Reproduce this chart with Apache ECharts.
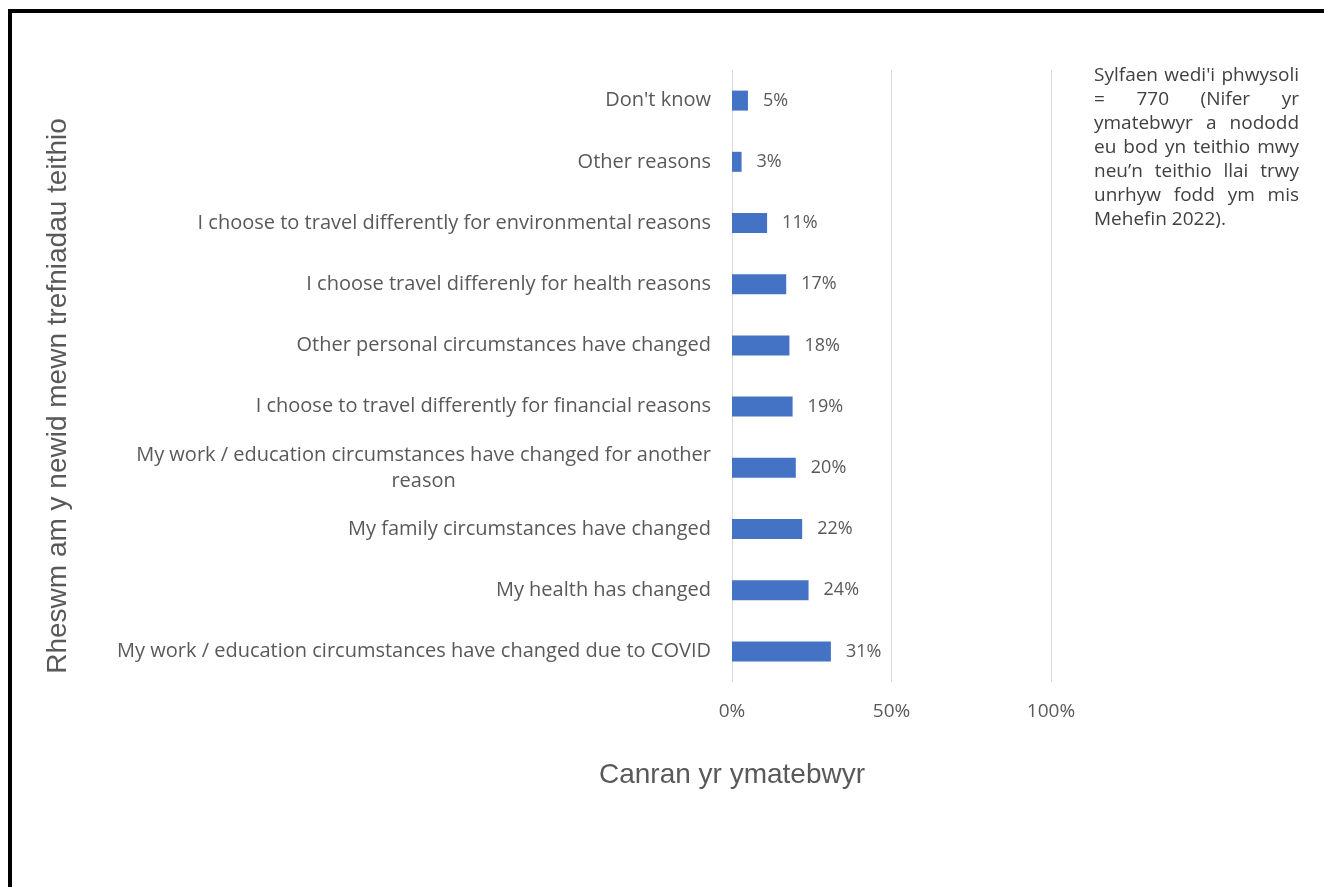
<!DOCTYPE html>
<html>
<head>
<meta charset="utf-8">
<script src="https://cdn.jsdelivr.net/npm/echarts@6/dist/echarts.min.js"></script>
<style>
html,body{margin:0;padding:0;background:#fff;}
#chart{width:1324px;height:887px;}
</style>
</head>
<body>
<div id="chart"></div>
<script>
// Categories listed top to bottom
const categories = [
  "Don't know",
  "Other reasons",
  "I choose to travel differently for environmental reasons",
  "I choose travel differenly for health reasons",
  "Other personal circumstances have changed",
  "I choose to travel differently for financial reasons",
  "My work / education circumstances have changed for another\nreason",
  "My family circumstances have changed",
  "My health has changed",
  "My work / education circumstances have changed due to COVID"
];
const values = [5, 3, 11, 17, 18, 19, 20, 22, 24, 31];
const xTicks = [0, 50, 100];
const yAxisTitle = "Rheswm am y newid mewn trefniadau teithio";
const xAxisTitle = "Canran yr ymatebwyr";
const noteLines = [
  "Sylfaen wedi'i phwysoli",
  "= 770 (Nifer yr",
  "ymatebwyr a nododd",
  "eu bod yn teithio mwy",
  "neu\u2019n teithio llai trwy",
  "unrhyw fodd ym mis",
  "Mehefin 2022)."
];

const labelFont = "'Open Sans', sans-serif";
const grey = '#595959';

const chart = echarts.init(document.getElementById('chart'), null, {renderer: 'canvas'});

// Justified note text
const noteFontSize = 19;
const noteFont = noteFontSize + "px 'Open Sans'";
const ctx = document.createElement('canvas').getContext('2d');
ctx.font = noteFont;
const noteLeft = 1094, noteRight = 1299, noteTop = 76, noteLineH = 24;
const noteElems = [];
noteLines.forEach((line, i) => {
  const y = noteTop + i * noteLineH;
  const words = line.split(' ');
  const last = i === noteLines.length - 1;
  if (last || words.length === 1) {
    noteElems.push({type: 'text', x: noteLeft, y: y,
      style: {text: line, font: noteFont, fill: '#404040', textAlign: 'left', textVerticalAlign: 'middle'}});
    return;
  }
  const widths = words.map(w => ctx.measureText(w).width);
  const total = widths.reduce((a, b) => a + b, 0);
  const gap = (noteRight - noteLeft - total) / (words.length - 1);
  let x = noteLeft;
  words.forEach((w, k) => {
    noteElems.push({type: 'text', x: x, y: y,
      style: {text: w, font: noteFont, fill: '#404040', textAlign: 'left', textVerticalAlign: 'middle'}});
    x += widths[k] + gap;
  });
});

const option = {
  backgroundColor: '#ffffff',
  animation: false,
  grid: {left: 732, right: 273, top: 70, bottom: 205, containLabel: false},
  xAxis: {
    type: 'value',
    min: 0, max: 100, interval: 50,
    axisLine: {show: false},
    axisTick: {show: false},
    splitLine: {show: true, lineStyle: {color: '#d9d9d9', width: 1}},
    axisLabel: {
      formatter: v => v + '%',
      color: grey, fontFamily: labelFont, fontSize: 19, margin: 20
    }
  },
  yAxis: {
    type: 'category',
    inverse: true,
    data: categories,
    axisLine: {show: false},
    axisTick: {show: false},
    axisLabel: {
      color: grey, fontFamily: labelFont, fontSize: 20, margin: 21, lineHeight: 26,
      formatter: function (v) {
        if (v.indexOf('\n') >= 0) {
          return v.split('\n').map(s => '{c|' + s + '}').join('\n');
        }
        return v;
      },
      rich: {c: {align: 'center', color: grey, fontFamily: labelFont, fontSize: 20, lineHeight: 26}}
    }
  },
  series: [{
    type: 'bar',
    data: values,
    barWidth: 20,
    itemStyle: {color: '#4472C4'},
    label: {
      show: true, position: 'right', distance: 15,
      formatter: p => p.value + '%',
      color: grey, fontFamily: labelFont, fontSize: 18
    }
  }],
  graphic: [
    {type: 'rect', shape: {x: 10, y: 11, width: 1400, height: 1000},
     style: {fill: 'none', stroke: '#000', lineWidth: 4}, silent: true},
    {type: 'text', x: 58, y: 396, rotation: Math.PI / 2,
     style: {text: yAxisTitle, font: "28px 'Liberation Sans', Arial, sans-serif", fill: grey,
             textAlign: 'center', textVerticalAlign: 'middle'}},
    {type: 'text', x: 732, y: 775,
     style: {text: xAxisTitle, font: "28px 'Liberation Sans', Arial, sans-serif", fill: grey,
             textAlign: 'center', textVerticalAlign: 'middle'}}
  ].concat(noteElems)
};
chart.setOption(option);
</script>
</body>
</html>
